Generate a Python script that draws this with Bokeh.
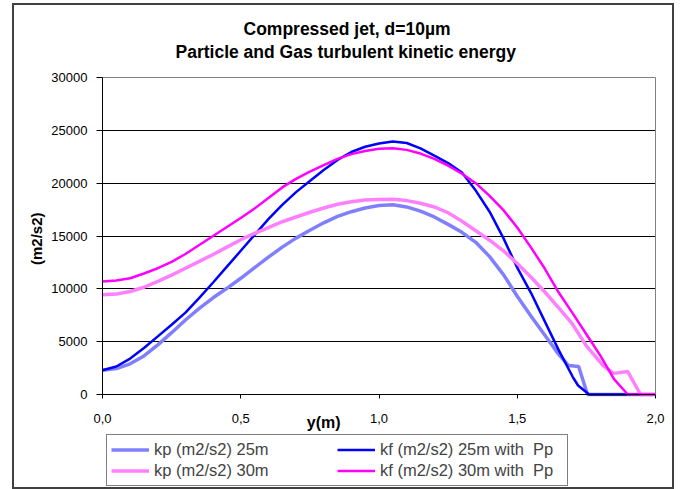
from bokeh.plotting import figure
from bokeh.models import Range1d, FixedTicker, Legend, LegendItem, Title, LinearAxis, Label, Grid
from bokeh.embed import file_html
from bokeh.resources import INLINE

# ---- data ----
x_kp25 = [0.00, 0.05, 0.10, 0.15, 0.20, 0.25, 0.30, 0.35, 0.40, 0.45, 0.50, 0.55, 0.60, 0.65, 0.70, 0.75, 0.80, 0.85, 0.90, 0.95,
          1.00, 1.05, 1.10, 1.15, 1.20, 1.25, 1.30, 1.35, 1.40, 1.45, 1.50, 1.55, 1.60, 1.65, 1.685, 1.722, 1.754, 2.00]
y_kp25 = [2300, 2450, 2900, 3650, 4700, 5850, 7050, 8150, 9150, 10050, 11000, 12000, 13000, 13950, 14800, 15550, 16250, 16850, 17300, 17650,
          17880, 17950, 17750, 17350, 16800, 16100, 15350, 14400, 13050, 11350, 9300, 7400, 5600, 3800, 2750, 2650, 0, 0]

x_kf25 = [0.00, 0.05, 0.10, 0.15, 0.20, 0.25, 0.30, 0.35, 0.40, 0.45, 0.50, 0.55, 0.60, 0.65, 0.70, 0.75, 0.80, 0.85, 0.90, 0.95,
          1.00, 1.05, 1.10, 1.15, 1.20, 1.25, 1.30, 1.35, 1.40, 1.45, 1.50, 1.55, 1.60, 1.65, 1.70, 1.72, 1.76, 2.00]
y_kf25 = [2300, 2650, 3400, 4400, 5500, 6600, 7750, 9150, 10600, 12100, 13600, 15100, 16600, 17950, 19150, 20200, 21250, 22200, 22950, 23450,
          23750, 23950, 23800, 23300, 22600, 21900, 21000, 19300, 17300, 14800, 12000, 9600, 6900, 4200, 1700, 850, 0, 0]

x_kp30 = [0.00, 0.05, 0.10, 0.15, 0.20, 0.25, 0.30, 0.35, 0.40, 0.45, 0.50, 0.55, 0.60, 0.65, 0.70, 0.75, 0.80, 0.85, 0.90, 0.95,
          1.00, 1.05, 1.10, 1.15, 1.20, 1.25, 1.30, 1.35, 1.40, 1.45, 1.50, 1.55, 1.60, 1.65, 1.70, 1.75, 1.81, 1.848, 1.899, 1.946, 2.00]
y_kp30 = [9450, 9500, 9750, 10150, 10700, 11300, 11950, 12600, 13250, 13950, 14650, 15250, 15800, 16350, 16800, 17250, 17650, 18000, 18250, 18400,
          18450, 18480, 18350, 18100, 17750, 17200, 16400, 15500, 14600, 13600, 12400, 11100, 9700, 8200, 6650, 4600, 2750, 2000, 2180, 0, 0]

x_kf30 = [0.00, 0.05, 0.10, 0.15, 0.20, 0.25, 0.30, 0.35, 0.40, 0.45, 0.50, 0.55, 0.60, 0.65, 0.70, 0.75, 0.80, 0.85, 0.90, 0.95,
          1.00, 1.05, 1.10, 1.15, 1.20, 1.25, 1.30, 1.35, 1.40, 1.45, 1.50, 1.55, 1.60, 1.65, 1.70, 1.75, 1.80, 1.85, 1.90, 2.00]
y_kf30 = [10700, 10780, 11000, 11450, 11950, 12550, 13300, 14150, 15000, 15850, 16700, 17600, 18600, 19600, 20400, 21100, 21700, 22300, 22750, 23050,
          23250, 23300, 23150, 22800, 22300, 21650, 20900, 20000, 18800, 17450, 15800, 13900, 11900, 9650, 7700, 5700, 3700, 1450, 0, 0]

series_names = ["kp (m2/s2) 25m", "kf (m2/s2) 25m with  Pp", "kp (m2/s2) 30m", "kf (m2/s2) 30m with  Pp"]
x_ticks = [0.0, 0.5, 1.0, 1.5, 2.0]
x_tick_labels = ["0,0", "0,5", "1,0", "1,5", "2,0"]
y_ticks = [0, 5000, 10000, 15000, 20000, 25000, 30000]
title_lines = ["Compressed jet, d=10\u00b5m", "Particle and Gas turbulent kinetic energy"]
x_title = "y(m)"
y_title = "(m2/s2)"

FONT = "Liberation Sans"
X_MIN_DATA, X_MAX_DATA = 0.0, 2.0
Y_MAX = 30000
# The plotting frame is larger than the data area so that tick labels, the
# x title and the legend all lie inside it: 553 px hold x 0..2, 317 px hold y 0..30000.
PX_PER_X = 553 / 2
PX_PER_Y = 317 / Y_MAX
X_START = X_MIN_DATA - 54 / PX_PER_X
X_END = X_MAX_DATA + 17 / PX_PER_X
Y_START = -93 / PX_PER_Y
Y_END = Y_MAX + 7 / PX_PER_Y

p = figure(width=662, height=486, output_backend="svg", toolbar_location=None,
           x_range=Range1d(X_START, X_END), y_range=Range1d(Y_START, Y_END),
           x_axis_location=None,
           min_border_left=34, min_border_right=4, min_border_top=65, min_border_bottom=4,
           background_fill_color="white", border_fill_color="white",
           margin=(3, 0, 0, 12), styles={"border": "2px solid #404040"})
p.outline_line_color = None

# x axis drawn on the zero line, y axis on x = 0
xaxis = LinearAxis(fixed_location=0, ticker=FixedTicker(ticks=x_ticks), bounds=(X_MIN_DATA, X_MAX_DATA),
                   major_label_overrides={t: l for t, l in zip(x_ticks, x_tick_labels)})
p.add_layout(xaxis, "below")

yaxis = p.yaxis[0]
yaxis.fixed_location = X_MIN_DATA
yaxis.ticker = FixedTicker(ticks=y_ticks)
yaxis.bounds = (0, Y_MAX)
yaxis.formatter.use_scientific = False
for ax in (xaxis, yaxis):
    ax.axis_line_color = "black"
    ax.axis_line_width = 1
    ax.major_tick_line_color = "black"
    ax.major_tick_in = 0
    ax.minor_tick_line_color = None
    ax.major_label_text_font = FONT
    ax.major_label_text_font_size = "13px"
    ax.major_label_text_color = "black"
yaxis.major_tick_out = 6
yaxis.major_label_standoff = 9
xaxis.major_tick_out = 4
xaxis.major_label_standoff = 15

# grey frame lines on top and right of the data area
top_line = LinearAxis(fixed_location=Y_MAX, ticker=FixedTicker(ticks=[]), bounds=(X_MIN_DATA, X_MAX_DATA),
                      axis_line_color="#808080", major_tick_line_color=None, minor_tick_line_color=None)
p.add_layout(top_line, "above")
right_line = LinearAxis(fixed_location=X_MAX_DATA, ticker=FixedTicker(ticks=[]), bounds=(0, Y_MAX),
                        axis_line_color="#808080", major_tick_line_color=None, minor_tick_line_color=None)
p.add_layout(right_line, "right")

# horizontal grid lines across the data area only
p.xgrid.grid_line_color = None
p.ygrid.ticker = FixedTicker(ticks=y_ticks[:-1])
if "cross_bounds" in Grid.properties():
    p.ygrid.cross_bounds = (X_MIN_DATA, X_MAX_DATA)
    p.ygrid.grid_line_color = "black"
    p.ygrid.grid_line_width = 1
else:
    p.ygrid.grid_line_color = None
    gy = y_ticks[:-1]
    p.segment(x0=[X_MIN_DATA] * len(gy), x1=[X_MAX_DATA] * len(gy), y0=gy, y1=gy,
              line_color="black", line_width=1)

# series
r1 = p.line(x_kp25, y_kp25, line_color="#8080FF", line_width=3.5)
r2 = p.line(x_kf25, y_kf25, line_color="#0000FF", line_width=2.5)
r3 = p.line(x_kp30, y_kp30, line_color="#FF80FF", line_width=3.5)
r4 = p.line(x_kf30, y_kf30, line_color="#FF00FF", line_width=2.5)

# chart title (two lines), line 2 nearest the plot
p.add_layout(Title(text=title_lines[1], align="left", offset=127, vertical_align="bottom", standoff=18,
                   text_font=FONT, text_font_style="bold", text_font_size="17.5px", text_color="black"), "above")
p.add_layout(Title(text=title_lines[0], align="left", offset=195, vertical_align="bottom", standoff=-17,
                   text_font=FONT, text_font_style="bold", text_font_size="17.5px", text_color="black"), "above")

# y axis title
p.add_layout(Title(text=y_title, align="right", offset=142, vertical_align="bottom", standoff=8,
                   text_font=FONT, text_font_style="bold", text_font_size="15px", text_color="black"), "left")

# x axis title
p.add_layout(Label(x=0.80, y=-2650, text=x_title, text_font=FONT, text_font_style="bold",
                   text_font_size="16px", text_color="black", text_align="center", text_baseline="middle"))

legend = Legend(items=[LegendItem(label=series_names[0], renderers=[r1]),
                       LegendItem(label=series_names[2], renderers=[r3]),
                       LegendItem(label=series_names[1], renderers=[r2]),
                       LegendItem(label=series_names[3], renderers=[r4])],
                ncols=2, location=(58, 1),
                label_text_font=FONT, label_text_font_size="16.5px",
                glyph_width=38, glyph_height=21, label_height=21, label_width=183,
                label_standoff=5, padding=4, spacing=0, margin=0,
                border_line_color="black", border_line_width=1,
                background_fill_color="white", background_fill_alpha=1)
p.add_layout(legend, "center")

open("out.html", "w").write(file_html(p, INLINE))
